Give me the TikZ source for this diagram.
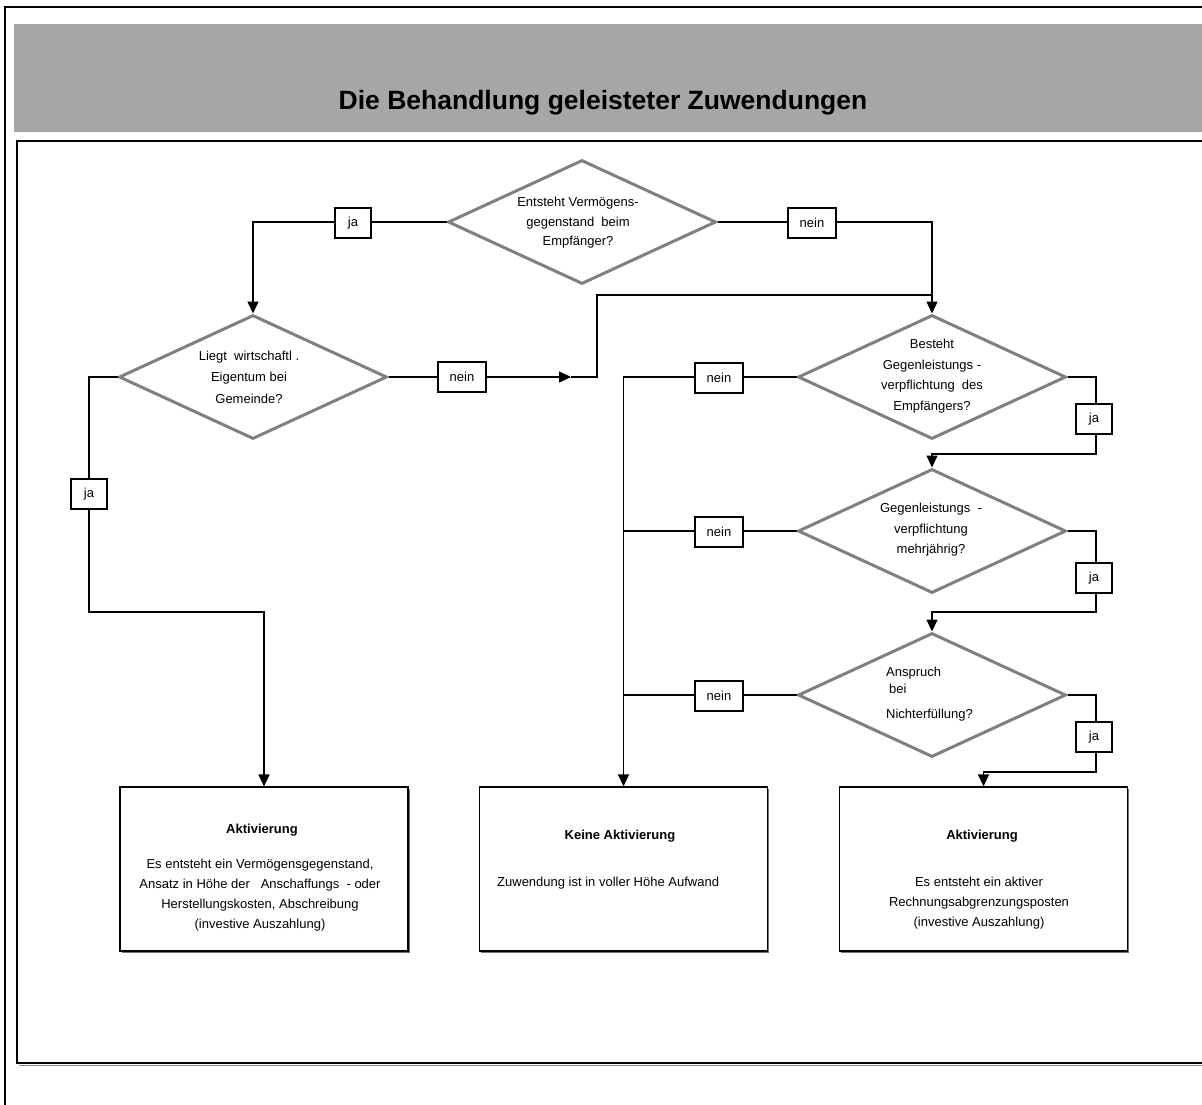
\documentclass[tikz,border=0pt]{standalone}
\usepackage{fontspec}
\setmainfont{Liberation Sans}
\usetikzlibrary{shapes.geometric,arrows.meta,shadows}
\definecolor{barg}{RGB}{166,166,166}
\definecolor{diag}{RGB}{128,128,128}
\begin{document}
\begin{tikzpicture}[x=1pt,y=-1pt,
  dia/.style={diamond, draw=diag, line width=3pt, minimum width=268pt, minimum height=124pt, inner sep=0pt},
  dtext/.style={align=center, inner sep=0pt},
  lbl/.style={draw, line width=1.1pt, fill=white, minimum height=30pt, inner sep=0pt, font=\fontsize{13}{16}\selectfont},
  jabox/.style={lbl, minimum width=36pt},
  neinbox/.style={lbl, minimum width=48pt},
  resbox/.style={draw, line width=1.2pt, fill=white, minimum width=288pt, minimum height=164pt, inner sep=0pt,
    drop shadow={shadow xshift=1.5pt, shadow yshift=-1.5pt, fill=black!55, opacity=1}},
  btitle/.style={font=\fontsize{13}{20}\selectfont\bfseries, inner sep=0pt},
  conn/.style={line width=1.3pt},
  arr/.style={conn, -{Triangle[length=12pt,width=11pt]}},
]
\useasboundingbox (0,0) rectangle (1202,1104);
\clip (0,0) rectangle (1202,1104);
\fill[white] (0,0) rectangle (1202,1104);
% frames
\fill[barg] (14,24) rectangle (1210,132);
\draw[line width=2.5pt] (5,1110) -- (5,7) -- (1210,7);
\draw[black!45, line width=1.5pt] (19,1065.5) -- (1210,1065.5);
\draw[line width=1.5pt] (1210,1063) -- (17,1063) -- (17,141) -- (1210,141);
\node[font=\fontsize{26.5}{30}\selectfont\bfseries, anchor=base, inner sep=0pt] (title) at (603,109) {Die Behandlung geleisteter Zuwendungen};

\begin{scope}[font=\fontsize{13}{20}\selectfont]
% diamonds
\node[dia] (d1) at (582,222) {};
\node[dia] (d2) at (253,377) {};
\node[dia] (d3) at (932,377) {};
\node[dia] (d4) at (932,531) {};
\node[dia] (d5) at (932,695) {};
\node[dtext, font=\fontsize{13}{19.5}\selectfont] (t1) at (578,223) {Entsteht Vermögens-\\gegenstand\ \ beim\\Empfänger?};
\node[dtext, font=\fontsize{13}{21.5}\selectfont] (t2) at (249,377) {Liegt\ \ wirtschaftl .\\Eigentum bei\\Gemeinde?};
\node[dtext, font=\fontsize{13}{20.7}\selectfont] (t3) at (932,376) {Besteht\\Gegenleistungs -\\verpflichtung\ \ des\\Empfängers?};
\node[dtext, font=\fontsize{13}{20.5}\selectfont] (t4) at (931,530) {Gegenleistungs\ \ -\\verpflichtung\\mehrjährig?};
\node[align=left, inner sep=0pt, anchor=west] (t5) at (886,694) {Anspruch\\[-3pt]\hspace{3pt}bei\\[5pt]Nichterfüllung?};

% result boxes
\node[resbox] (b1) at (264,869) {};
\node[resbox] (b2) at (623.5,869) {};
\node[resbox] (b3) at (983.5,869) {};
\node[btitle] (b1t) at (262,830) {Aktivierung};
\node[dtext] (b1x) at (260,895) {Es entsteht ein Vermögensgegenstand,\\Ansatz in Höhe der\ \ \ Anschaffungs\ \ - oder\\Herstellungskosten, Abschreibung\\(investive Auszahlung)};
\node[btitle] (b2t) at (620,836) {Keine Aktivierung};
\node[inner sep=0pt, anchor=west] (b2x) at (497,883) {Zuwendung ist in voller Höhe Aufwand};
\node[btitle] (b3t) at (982,836) {Aktivierung};
\node[dtext] (b3x) at (979,903) {Es entsteht ein aktiver\\Rechnungsabgrenzungsposten\\(investive Auszahlung)};

% connector helper points
\coordinate (m1) at (571,377);
\coordinate (m2) at (597,295);
\coordinate (l1) at (89,612);
\coordinate (r1) at (1096,454);
\coordinate (r2) at (1096,612);
\coordinate (r3) at (1096,772);

% connectors
\draw[arr] (d1.west) -| (d2.north);
\draw[arr] (d1.east) -| (d3.north);
\draw[arr] (d2.east) -- (m1);
\draw[conn] (m1) -- (m2 |- m1) -- (m2) -- (m2 -| d3.north);
\draw[arr] (d2.west) -| (l1) -| (b1.north);
\draw[arr] (d3.west) -| (b2.north);
\draw[conn] (d4.west) -- (d4.west -| b2.north);
\draw[conn] (d5.west) -- (d5.west -| b2.north);
\draw[arr] (d3.east) -| (r1) -| (d4.north);
\draw[arr] (d4.east) -| (r2) -| (d5.north);
\draw[arr] (d5.east) -| (r3) -| (b3.north);

% labels
\node[jabox] (j1) at (353,223) {ja};
\node[neinbox] (n1) at (812,223) {nein};
\node[neinbox] (n2) at (462,377) {nein};
\node[jabox] (j2) at (89,494) {ja};
\node[neinbox] (n3) at (719,378) {nein};
\node[jabox] (j3) at (1094,419) {ja};
\node[neinbox] (n4) at (719,532) {nein};
\node[jabox] (j4) at (1094,578) {ja};
\node[neinbox] (n5) at (719,696) {nein};
\node[jabox] (j5) at (1094,737) {ja};
\end{scope}
\end{tikzpicture}
\end{document}
